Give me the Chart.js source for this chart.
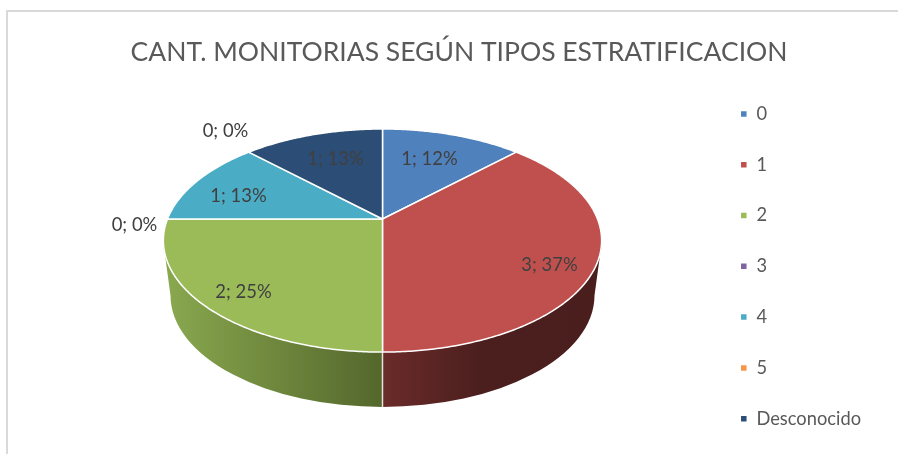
<!DOCTYPE html>
<html>
<head>
<meta charset="utf-8">
<title>Cant. monitorias</title>
<script src="https://cdn.jsdelivr.net/npm/chart.js@4"></script>
<style>
  html, body { margin: 0; padding: 0; background: #fff; overflow: hidden; }
  canvas { display: block; }
</style>
</head>
<body>
<canvas id="chart" width="898" height="454"></canvas>
<script>
const categories = ['0', '1', '2', '3', '4', '5', 'Desconocido'];
const values = [1, 3, 2, 0, 1, 0, 1];
const percents = [12, 37, 25, 0, 13, 0, 13];
const colors = ['#4f81bd', '#c0504d', '#9bbb59', '#8064a2', '#4bacc6', '#f79646', '#2c4d75'];

// label centres, relative to the middle of the pie
const labelOffsets = [[47, -81.5], [167, 24.5], [-139, 51.5], [-248, -15.5], [-144, -44.5], [-157, -109.5], [-47, -81.5]];

// the tilted pie in perspective: slices meet at the apex, rim is an ellipse
const PIE = { cx: 382.5, cy: 240.5, rx: 219.5, ry: 111.5, depth: 55, bottomRx: 212 };
const TILT = { x: 382.5, y: 219, a: 215, b: 107.4, k: -0.193 };
const LEGEND_SHIFT = 39.3;

const sideGradients = {
  1: [[382, '#6b2b2a'], [480, '#4b1f1e'], [602, '#4a1e1d']],
  2: [[163, '#8aa94f'], [382, '#54672c']]
};

function project(angle) {
  const d = 1 + TILT.k * Math.sin(angle);
  return [TILT.x + TILT.a * Math.cos(angle) / d, TILT.y + TILT.b * Math.sin(angle) / d];
}

// replaces the flat arc drawing, the library still calls it with its own angles
function drawTiltedArc(ctx) {
  if (this.endAngle - this.startAngle <= 0) return;
  ctx.save();
  ctx.beginPath();
  ctx.moveTo(TILT.x, TILT.y);
  for (let a = this.startAngle; a < this.endAngle; a += 0.01) {
    const p = project(a);
    ctx.lineTo(p[0], p[1]);
  }
  const end = project(this.endAngle);
  ctx.lineTo(end[0], end[1]);
  ctx.closePath();
  ctx.fillStyle = this.options.backgroundColor;
  ctx.fill();
  ctx.strokeStyle = this.options.borderColor;
  ctx.lineWidth = this.options.borderWidth;
  ctx.lineJoin = 'round';
  ctx.stroke();
  ctx.restore();
}

const pie3d = {
  id: 'pie3d',
  afterDatasetUpdate(chart) {
    chart.getDatasetMeta(0).data.forEach(arc => { arc.draw = drawTiltedArc; });
  },
  afterLayout(chart) {
    chart.legend.top += LEGEND_SHIFT;
    chart.legend.bottom += LEGEND_SHIFT;
  },
  beforeDraw(chart) {
    const ctx = chart.ctx;
    ctx.save();
    ctx.fillStyle = '#d9d9d9';
    ctx.fillRect(6, 10, 892, 2);
    ctx.fillRect(6, 10, 2, 444);
    ctx.restore();
  },
  beforeDatasetsDraw(chart) {
    const ctx = chart.ctx;
    const arcs = chart.getDatasetMeta(0).data;
    ctx.save();
    arcs.forEach((arc, i) => {
      const stops = sideGradients[i];
      if (!stops) return;
      const a0 = Math.max(arc.startAngle, 0);
      const a1 = Math.min(arc.endAngle, Math.PI);
      const x0 = stops[0][0], x1 = stops[stops.length - 1][0];
      const grad = ctx.createLinearGradient(x0, 0, x1, 0);
      stops.forEach(s => grad.addColorStop((s[0] - x0) / (x1 - x0), s[1]));
      ctx.beginPath();
      ctx.ellipse(PIE.cx, PIE.cy, PIE.rx, PIE.ry, 0, a0, a1);
      ctx.ellipse(PIE.cx, PIE.cy + PIE.depth, PIE.bottomRx, PIE.ry, 0, a1, a0, true);
      ctx.closePath();
      ctx.fillStyle = grad;
      ctx.fill();
    });
    // seam between the two visible side walls
    ctx.strokeStyle = 'rgba(255,255,255,0.8)';
    ctx.lineWidth = 1.5;
    ctx.beginPath();
    ctx.moveTo(PIE.cx, PIE.cy + PIE.ry);
    ctx.lineTo(PIE.cx, PIE.cy + PIE.ry + PIE.depth);
    ctx.stroke();
    ctx.restore();
  },
  afterDatasetsDraw(chart) {
    const ctx = chart.ctx;
    ctx.save();
    ctx.font = '18.4px Lato';
    ctx.fillStyle = '#404040';
    ctx.textAlign = 'center';
    ctx.textBaseline = 'middle';
    values.forEach((v, i) => {
      const off = labelOffsets[i];
      ctx.fillText(v + '; ' + percents[i] + '%', PIE.cx + off[0], PIE.cy + off[1]);
    });
    ctx.restore();
  }
};

new Chart(document.getElementById('chart').getContext('2d'), {
  type: 'pie',
  data: {
    labels: categories,
    datasets: [{
      data: values,
      backgroundColor: colors,
      borderColor: '#fff',
      borderWidth: 1.5
    }]
  },
  plugins: [pie3d],
  options: {
    responsive: false,
    animation: false,
    layout: { padding: { left: 47, right: 27, top: 0, bottom: 0 } },
    plugins: {
      tooltip: { enabled: false },
      title: {
        display: true,
        text: 'CANT. MONITORIAS SEGÚN TIPOS ESTRATIFICACION',
        color: '#595959',
        font: { family: 'Lato', size: 26.5, weight: 'normal' },
        padding: { top: 37, bottom: 8 }
      },
      legend: {
        position: 'right',
        labels: {
          color: '#595959',
          font: { family: 'Lato', size: 18.3 },
          usePointStyle: true,
          pointStyle: 'rect',
          boxHeight: 7,
          boxWidth: 7,
          padding: 32.5
        }
      }
    }
  }
});
</script>
</body>
</html>
